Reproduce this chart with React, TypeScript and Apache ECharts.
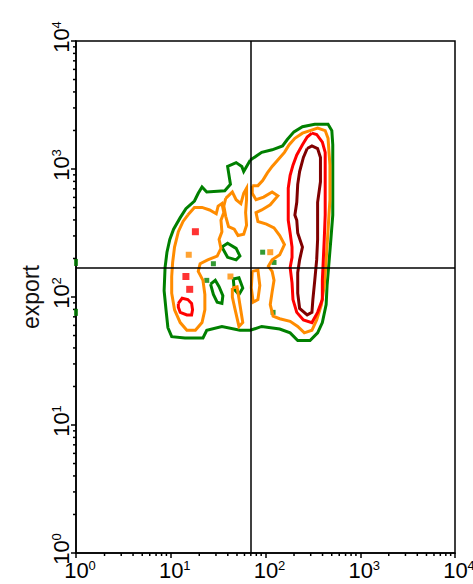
import { useEffect, useRef } from "react";
import * as echarts from "echarts";

// All positions are log10 of fluorescence intensity (decades).
const decades = [0, 1, 2, 3, 4];

// Quadrant gate (log10 units)
const gateX = 1.836;
const gateY = 2.234;

// Contour rings, [log10 x, log10 y]
const greenOuter = [
  [1.84, 3.07], [1.96, 3.13], [2.07, 3.15], [2.18, 3.18], [2.23, 3.23], [2.30, 3.29],
  [2.39, 3.33], [2.52, 3.35], [2.66, 3.35], [2.70, 3.30], [2.71, 3.19], [2.71, 2.95],
  [2.71, 2.64], [2.69, 2.45], [2.67, 2.27], [2.65, 2.09], [2.64, 1.94], [2.60, 1.80],
  [2.55, 1.72], [2.47, 1.66], [2.34, 1.66], [2.26, 1.72], [2.15, 1.75], [1.96, 1.77],
  [1.84, 1.74], [1.73, 1.74], [1.54, 1.77], [1.38, 1.74], [1.34, 1.68], [1.15, 1.68],
  [1.01, 1.69], [0.97, 1.76], [0.95, 1.90], [0.93, 2.05], [0.94, 2.23], [0.96, 2.35],
  [0.99, 2.45], [1.03, 2.53], [1.10, 2.62], [1.16, 2.69], [1.25, 2.75], [1.29, 2.81],
  [1.33, 2.86], [1.38, 2.82], [1.57, 2.83], [1.63, 2.88], [1.60, 3.02], [1.69, 3.05],
  [1.75, 3.02], [1.77, 2.98],
];
const greenInnerA = [
  [1.42, 2.10], [1.47, 2.13], [1.51, 2.08], [1.55, 2.01], [1.54, 1.95], [1.49, 1.96], [1.45, 2.02],
];
const greenInnerB = [
  [1.54, 2.39], [1.60, 2.42], [1.69, 2.38], [1.73, 2.32], [1.69, 2.29], [1.60, 2.31],
];
const greenInnerC = [
  [1.66, 2.14], [1.72, 2.15], [1.76, 2.07], [1.72, 2.02], [1.67, 2.06],
];

const orangeLeft = [
  [1.18, 2.64], [1.25, 2.70], [1.33, 2.70], [1.41, 2.68], [1.48, 2.65], [1.50, 2.71],
  [1.54, 2.73], [1.56, 2.66], [1.53, 2.60], [1.54, 2.51], [1.51, 2.45], [1.53, 2.38],
  [1.49, 2.32], [1.39, 2.29], [1.31, 2.26], [1.29, 2.20], [1.34, 2.13], [1.36, 2.02],
  [1.36, 1.90], [1.33, 1.80], [1.26, 1.74], [1.17, 1.74], [1.10, 1.80], [1.04, 1.90],
  [1.01, 2.03], [1.01, 2.16], [1.02, 2.27], [1.04, 2.39], [1.08, 2.51], [1.13, 2.59],
];
const orangeMid = [
  [1.58, 2.77], [1.65, 2.82], [1.69, 2.76], [1.74, 2.73], [1.77, 2.81], [1.80, 2.85],
  [1.80, 2.76], [1.79, 2.66], [1.80, 2.56], [1.77, 2.49], [1.71, 2.48], [1.67, 2.53],
  [1.61, 2.55], [1.58, 2.63], [1.56, 2.71],
];
const orangeRight = [
  [1.86, 2.87], [1.92, 2.87], [1.97, 2.91], [2.02, 2.97], [2.07, 3.02], [2.13, 3.07],
  [2.20, 3.13], [2.25, 3.19], [2.31, 3.24], [2.39, 3.28], [2.47, 3.30], [2.55, 3.32],
  [2.63, 3.30], [2.66, 3.24], [2.68, 3.03], [2.68, 2.76], [2.66, 2.52], [2.64, 2.29],
  [2.62, 2.09], [2.59, 1.94], [2.54, 1.82], [2.49, 1.74], [2.41, 1.72], [2.34, 1.77],
  [2.26, 1.81], [2.15, 1.83], [2.08, 1.85], [2.05, 1.94], [2.07, 2.04], [2.09, 2.13],
  [2.07, 2.20], [2.03, 2.24], [2.07, 2.29], [2.15, 2.33], [2.20, 2.41], [2.15, 2.48],
  [2.09, 2.54], [2.01, 2.57], [1.92, 2.59], [1.90, 2.66], [1.96, 2.68], [2.05, 2.72],
  [2.13, 2.79], [2.07, 2.82], [1.98, 2.78], [1.90, 2.76], [1.86, 2.81],
];
const orangeGate = [
  [1.86, 2.20], [1.92, 2.21], [1.94, 2.09], [1.92, 1.98], [1.87, 1.96], [1.85, 2.07],
];
const orangeLow = [
  [1.65, 2.07], [1.70, 2.08], [1.73, 1.94], [1.76, 1.80], [1.72, 1.77], [1.68, 1.90], [1.65, 2.00],
];

const redRight = [
  [2.49, 3.28], [2.54, 3.27], [2.60, 3.21], [2.63, 3.13], [2.63, 2.90], [2.63, 2.64],
  [2.62, 2.45], [2.61, 2.29], [2.60, 2.13], [2.60, 1.98], [2.55, 1.88], [2.49, 1.80],
  [2.40, 1.82], [2.33, 1.88], [2.29, 1.98], [2.28, 2.11], [2.26, 2.23], [2.28, 2.31],
  [2.28, 2.39], [2.26, 2.50], [2.24, 2.60], [2.24, 2.70], [2.24, 2.85], [2.26, 2.95],
  [2.29, 3.03], [2.33, 3.11], [2.39, 3.19], [2.44, 3.25],
];
const redLeft = [
  [1.08, 1.95], [1.12, 1.99], [1.18, 1.98], [1.22, 1.95], [1.23, 1.90], [1.22, 1.86],
  [1.17, 1.86], [1.10, 1.88], [1.08, 1.92],
];
const darkRed = [
  [2.44, 3.16], [2.49, 3.18], [2.55, 3.16], [2.58, 3.09], [2.58, 2.90], [2.55, 2.74],
  [2.55, 2.56], [2.55, 2.45], [2.54, 2.29], [2.52, 2.13], [2.50, 1.98], [2.49, 1.88],
  [2.44, 1.86], [2.36, 1.91], [2.34, 2.03], [2.34, 2.19], [2.36, 2.29], [2.39, 2.39],
  [2.34, 2.50], [2.33, 2.60], [2.31, 2.64], [2.33, 2.74], [2.34, 2.88], [2.36, 2.98],
  [2.40, 3.09],
];

// Isolated single-cell contour spots
const redSpots = [[1.26, 2.51], [1.16, 2.16], [1.20, 2.06]];
const orangeSpots = [[1.19, 2.33], [1.63, 2.16], [2.05, 2.35]];
const greenSpots = [[1.97, 2.35], [2.09, 2.27], [2.08, 1.88], [1.38, 2.13], [1.45, 2.26]];
const axisSpots = [[0, 2.27], [0, 1.88]];

const GREEN = "#008000";
const ORANGE = "#ff8c00";
const RED = "#ff0000";
const DARK_RED = "#800000";
const FONT = '"Liberation Sans", Arial, sans-serif';

// Sub-decade tick positions: 2..9 x 10^d
const minorTicks: number[] = [];
for (let d = 0; d < decades.length - 1; d++) {
  for (let k = 2; k <= 9; k++) minorTicks.push(decades[d] + Math.log10(k));
}

function ring(points: number[][], color: string) {
  return {
    type: "line",
    data: [...points, points[0]],
    showSymbol: false,
    symbol: "none",
    smooth: false,
    silent: true,
    lineStyle: { color, width: 3, join: "miter" },
  };
}

function spots(points: number[][], color: string, size: number | number[], clip = true) {
  return {
    type: "scatter",
    data: points,
    symbol: "rect",
    symbolSize: size,
    silent: true,
    clip,
    itemStyle: { color },
  };
}

const rich = {
  b: { fontSize: 22, fontFamily: FONT, color: "#000", lineHeight: 22 },
  e: { fontSize: 13, fontFamily: FONT, color: "#000", lineHeight: 14, verticalAlign: "top" },
};

const labelFormatter = (v: number) => `{b|10}{e|${decades[Math.round(v)]}}`;

function axis(isY: boolean) {
  return {
    type: "value",
    min: 0,
    max: 4,
    interval: 1,
    position: isY ? "left" : "bottom",
    axisLine: { show: true, onZero: false, lineStyle: { color: "#000", width: 1.5 } },
    axisTick: { show: true, length: 5, lineStyle: { color: "#000", width: 1.5 } },
    axisLabel: {
      show: true,
      margin: isY ? 4 : 6,
      rotate: isY ? 90 : 0,
      formatter: labelFormatter,
      rich,
      padding: [0, 0, 0, 8],
      showMinLabel: true,
      showMaxLabel: true,
    },
    splitLine: { show: false },
    ...(isY
      ? {
          name: "export",
          nameLocation: "middle",
          nameRotate: 90,
          nameGap: 33,
          nameTextStyle: { fontSize: 23, fontFamily: FONT, color: "#111" },
        }
      : {}),
  };
}

export default function App() {
  const ref = useRef<HTMLDivElement>(null);

  useEffect(() => {
    document.body.style.margin = "0";
    if (!ref.current) return;
    const chart = echarts.init(ref.current, undefined, { renderer: "svg" });
    const darkRing: any = ring(darkRed, DARK_RED);
    darkRing.markLine = {
      silent: true,
      symbol: ["none", "none"],
      label: { show: false },
      lineStyle: { color: "#000", width: 1.5, type: "solid" },
      data: [{ xAxis: gateX }, { yAxis: gateY }],
    };
    chart.setOption({
      animation: false,
      backgroundColor: "#fff",
      grid: {
        left: 76,
        top: 41,
        right: 18,
        bottom: 31,
        show: true,
        borderColor: "#000",
        borderWidth: 1.5,
        backgroundColor: "transparent",
        outerBoundsMode: "none",
      },
      xAxis: axis(false),
      yAxis: axis(true),
      series: [
        ring(greenOuter, GREEN),
        ring(greenInnerA, GREEN),
        ring(greenInnerB, GREEN),
        ring(greenInnerC, GREEN),
        spots(greenSpots, GREEN, 5),
        spots(axisSpots, GREEN, [4, 7], false),
        ring(orangeLeft, ORANGE),
        ring(orangeMid, ORANGE),
        ring(orangeRight, ORANGE),
        ring(orangeGate, ORANGE),
        ring(orangeLow, ORANGE),
        spots(orangeSpots, ORANGE, 6),
        ring(redRight, RED),
        ring(redLeft, RED),
        spots(redSpots, RED, 7),
        darkRing,
      ],
    });

    // Sub-decade ticks, placed with the chart's own axis scales
    const [x0, y0] = chart.convertToPixel({ gridIndex: 0 }, [0, 0]) as number[];
    const tickStyle = { stroke: "#000", lineWidth: 1.5 };
    const ticks: any[] = [];
    minorTicks.forEach((v) => {
      const [px] = chart.convertToPixel({ gridIndex: 0 }, [v, 0]) as number[];
      const [, py] = chart.convertToPixel({ gridIndex: 0 }, [0, v]) as number[];
      ticks.push({ type: "line", silent: true, shape: { x1: px, y1: y0, x2: px, y2: y0 + 3 }, style: tickStyle });
      ticks.push({ type: "line", silent: true, shape: { x1: x0 - 3, y1: py, x2: x0, y2: py }, style: tickStyle });
    });
    chart.setOption({ graphic: ticks });

    return () => chart.dispose();
  }, []);

  return <div ref={ref} style={{ width: 473, height: 584 }} />;
}
